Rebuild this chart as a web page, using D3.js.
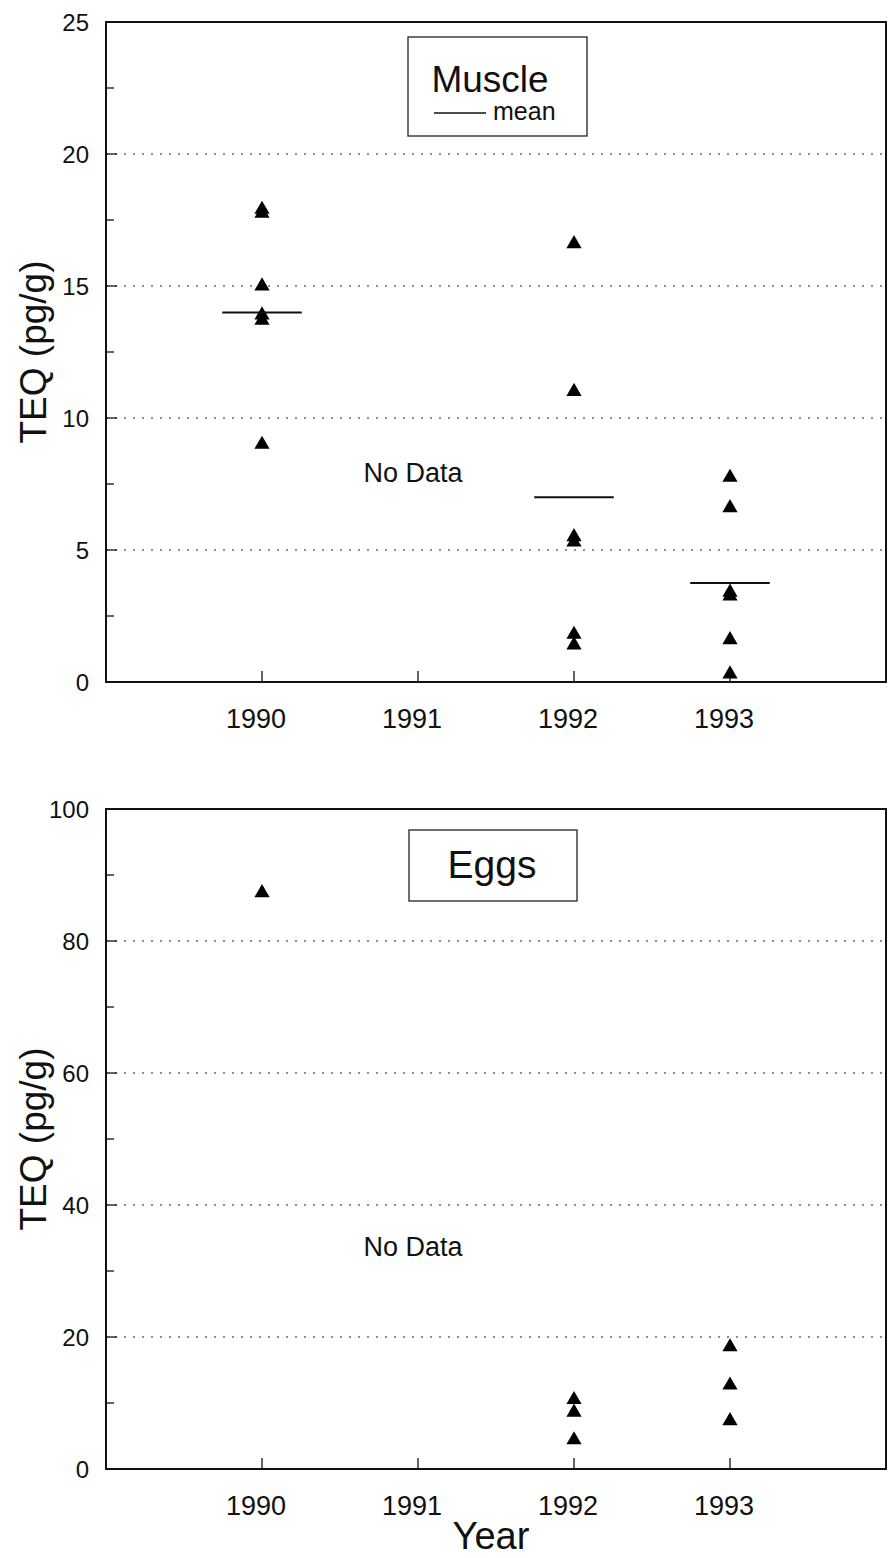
<!DOCTYPE html>
<html>
<head>
<meta charset="utf-8">
<script src="https://cdn.jsdelivr.net/npm/d3@7"></script>
<style>
  body { margin: 0; background: #fff; }
  text { font-family: "Liberation Sans", Arial, sans-serif; fill: #111; }
</style>
</head>
<body>
<script>
// data
const years = [1990, 1991, 1992, 1993];
const muscleYears = [1990, 1990, 1990, 1990, 1990, 1990, 1992, 1992, 1992, 1992, 1992, 1992, 1993, 1993, 1993, 1993, 1993, 1993];
const muscleTEQ   = [17.9, 17.75, 15.0, 13.9, 13.7, 9.0, 16.6, 11.0, 5.5, 5.3, 1.8, 1.4, 7.75, 6.6, 3.4, 3.25, 1.6, 0.3];
const meanYears = [1990, 1992, 1993];
const meanTEQ   = [14.0, 7.0, 3.75];
const eggYears = [1990, 1992, 1992, 1992, 1993, 1993, 1993];
const eggTEQ   = [87.3, 10.5, 8.6, 4.4, 18.5, 12.7, 7.3];
const noDataYear = 1991;

const svg = d3.select("body").append("svg")
    .attr("width", 891).attr("height", 1558);

const x = d3.scaleLinear().domain([1989, 1994]).range([106, 886]);

function panel(top, bottom, yMax, major, minor, points, opts) {
    const y = d3.scaleLinear().domain([0, yMax]).range([bottom, top]);
    const g = svg.append("g");

    // dotted grid
    g.selectAll("line.grid")
      .data(d3.range(major, yMax, major))
      .join("line")
        .attr("x1", x.range()[0]).attr("x2", x.range()[1])
        .attr("y1", d => y(d)).attr("y2", d => y(d))
        .attr("stroke", "#222").attr("stroke-width", 1.2)
        .attr("stroke-dasharray", "2,7");

    // frame
    g.append("rect")
        .attr("x", x.range()[0]).attr("y", top)
        .attr("width", x.range()[1] - x.range()[0]).attr("height", bottom - top)
        .attr("fill", "none").attr("stroke", "#111").attr("stroke-width", 2);

    // y ticks (inside)
    g.selectAll("line.ytick")
      .data(d3.range(0, yMax + 0.001, minor))
      .join("line")
        .attr("x1", x.range()[0])
        .attr("x2", d => x.range()[0] + (Math.abs(d / major - Math.round(d / major)) < 1e-6 ? 11 : 8))
        .attr("y1", d => y(d)).attr("y2", d => y(d))
        .attr("stroke", "#111").attr("stroke-width", 1.3);

    g.selectAll("text.ylab")
      .data(d3.range(0, yMax + 0.001, major))
      .join("text")
        .attr("x", 89).attr("y", d => y(d) + 9)
        .attr("text-anchor", "end")
        .attr("font-size", 24)
        .text(d => d);

    // x ticks (inside, upward)
    g.selectAll("line.xtick")
      .data(years)
      .join("line")
        .attr("x1", d => x(d)).attr("x2", d => x(d))
        .attr("y1", bottom).attr("y2", bottom - 11)
        .attr("stroke", "#111").attr("stroke-width", 1.3);

    g.selectAll("text.xlab")
      .data(years)
      .join("text")
        .attr("x", d => x(d) - 6).attr("y", bottom + 46)
        .attr("text-anchor", "middle")
        .attr("font-size", 27)
        .text(d => d);

    // axis title
    g.append("text")
        .attr("transform", `translate(46,${(top + bottom) / 2}) rotate(-90)`)
        .attr("text-anchor", "middle")
        .attr("font-size", 37)
        .text("TEQ (pg/g)");

    g.append("text")
        .attr("x", x(noDataYear) - 5).attr("y", opts.noDataY)
        .attr("text-anchor", "middle")
        .attr("font-size", 27)
        .text("No Data");

    // points
    const tri = d3.symbol().type(d3.symbolTriangle).size(100);
    g.selectAll("path.pt")
      .data(points)
      .join("path")
        .attr("d", tri)
        .attr("transform", d => `translate(${x(d[0])},${y(d[1])})`)
        .attr("fill", "#000");

    return { g, y };
}

// Muscle panel
const m = panel(22, 682, 25, 5, 2.5, d3.zip(muscleYears, muscleTEQ), { noDataY: 482 });
m.g.selectAll("line.mean")
  .data(d3.zip(meanYears, meanTEQ))
  .join("line")
    .attr("x1", d => x(d[0] - 0.255)).attr("x2", d => x(d[0] + 0.255))
    .attr("y1", d => m.y(d[1])).attr("y2", d => m.y(d[1]))
    .attr("stroke", "#111").attr("stroke-width", 2);

m.g.append("rect")
    .attr("x", 408).attr("y", 37).attr("width", 179).attr("height", 99)
    .attr("fill", "#fff").attr("stroke", "#222").attr("stroke-width", 1.3);
m.g.append("text")
    .attr("x", 490).attr("y", 92).attr("text-anchor", "middle")
    .attr("font-size", 37).text("Muscle");
m.g.append("line")
    .attr("x1", 434).attr("x2", 486).attr("y1", 113).attr("y2", 113)
    .attr("stroke", "#111").attr("stroke-width", 1.3);
m.g.append("text")
    .attr("x", 493).attr("y", 120).attr("font-size", 25).text("mean");

// Eggs panel
const e = panel(809, 1469, 100, 20, 10, d3.zip(eggYears, eggTEQ), { noDataY: 1256 });
e.g.append("rect")
    .attr("x", 409).attr("y", 830).attr("width", 168).attr("height", 71)
    .attr("fill", "#fff").attr("stroke", "#222").attr("stroke-width", 1.3);
e.g.append("text")
    .attr("x", 492).attr("y", 878).attr("text-anchor", "middle")
    .attr("font-size", 39).text("Eggs");

svg.append("text")
    .attr("x", 491).attr("y", 1549).attr("text-anchor", "middle")
    .attr("font-size", 38).text("Year");
</script>
</body>
</html>
